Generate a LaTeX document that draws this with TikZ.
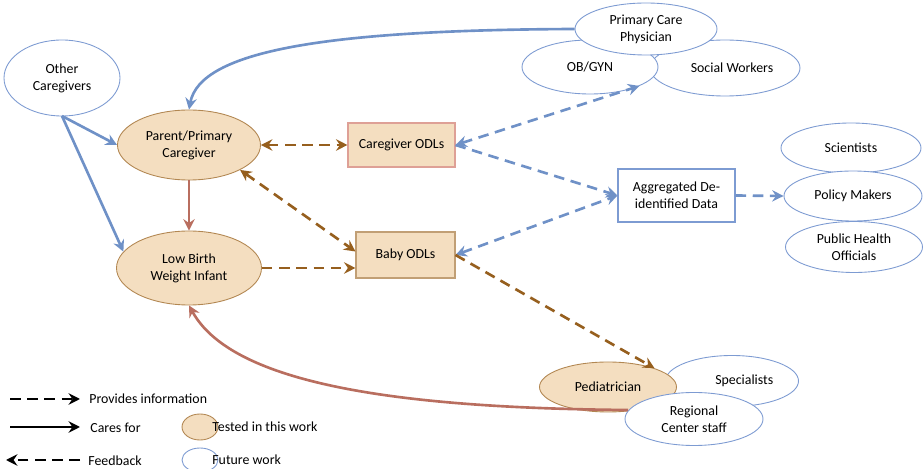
\documentclass[tikz,border=0pt]{standalone}
\usepackage{fontspec}
\setmainfont{Carlito}
\usetikzlibrary{arrows.meta,shapes.geometric}
\definecolor{bline}{RGB}{111,145,199}
\definecolor{bedge}{RGB}{125,155,210}
\definecolor{tanfill}{RGB}{244,222,192}
\definecolor{tanedge}{RGB}{178,135,82}
\definecolor{boxedge}{RGB}{222,160,150}
\definecolor{brdash}{RGB}{150,95,30}
\definecolor{redline}{RGB}{185,110,95}
\tikzset{
  every node/.style={font=\fontsize{7.9}{9.8}\selectfont, align=center, inner sep=0pt},
  future/.style={ellipse, draw=bedge, fill=white, line width=0.5pt},
  tested/.style={ellipse, draw=tanedge, fill=tanfill, line width=0.5pt},
  odlbox/.style={rectangle, draw=boxedge, fill=tanfill, line width=0.6pt},
  aggbox/.style={rectangle, draw=bedge, fill=white, line width=0.6pt},
  tip/.style={-{Stealth[length=6.5pt,width=6.5pt,inset=2.2pt]}},
  dtip/.style={{Stealth[length=6.5pt,width=6.5pt,inset=2.2pt]}-{Stealth[length=6.5pt,width=6.5pt,inset=2.2pt]}},
  dashline/.style={line width=1.5pt, dash pattern=on 6pt off 3.8pt},
  bsolid/.style={bline, line width=1.5pt, tip},
  rsolid/.style={redline, line width=1.5pt, tip},
  bdash/.style={bline, dashline, tip},
  brd/.style={brdash, dashline, tip},
}
\begin{document}
\begin{tikzpicture}[x=0.02cm,y=-0.02cm]
\useasboundingbox (0,0) rectangle (924,469);

% nodes
\node[future, minimum width=116*0.02cm, minimum height=76*0.02cm] (oc) at (62,78) {Other\\Caregivers};
\node[tested, minimum width=143*0.02cm, minimum height=70*0.02cm] (parent) at (189,145) {Parent/Primary\\Caregiver};
\node[tested, minimum width=145*0.02cm, minimum height=74*0.02cm] (lbw) at (189,268) {Low Birth\\Weight Infant};
\node[odlbox, minimum width=107*0.02cm, minimum height=44*0.02cm] (cg) at (401.5,145) {Caregiver ODLs};
\node[odlbox, draw=tanedge!80, minimum width=99*0.02cm, minimum height=46*0.02cm] (baby) at (405.5,255) {Baby ODLs};
\node[aggbox, minimum width=117*0.02cm, minimum height=53*0.02cm] (agg) at (676.5,195.5) {Aggregated De-\\identified Data};

\node[future, minimum width=140*0.02cm, minimum height=50*0.02cm] (sci) at (851,148) {Scientists};
\node[future, minimum width=138*0.02cm, minimum height=50*0.02cm] (pol) at (853,196) {Policy Makers};
\node[future, minimum width=137*0.02cm, minimum height=51*0.02cm] (pho) at (854,247) {Public Health\\Officials};

\node[future, minimum width=150*0.02cm, minimum height=56*0.02cm] (social) at (725,68) {\hspace*{8pt}Social Workers};
\node[future, minimum width=136*0.02cm, minimum height=54*0.02cm] (ob) at (590,67) {OB/GYN};
\node[future, minimum width=142*0.02cm, minimum height=52*0.02cm] (pcp) at (646,29) {Primary Care\\Physician};

\node[future, minimum width=133*0.02cm, minimum height=51*0.02cm] (spec) at (732,381) {\hspace*{14pt}Specialists};
\node[tested, minimum width=137*0.02cm, minimum height=50*0.02cm] (ped) at (608,387) {Pediatrician};
\node[future, minimum width=138*0.02cm, minimum height=53*0.02cm] (rcs) at (694,419) {Regional\\Center staff};

% connectors
\coordinate (ocb) at (62,116);
\draw[bsolid] (ocb) -- (parent.west);
\draw[bsolid] (ocb) -- (lbw.166);
\draw[bsolid] (pcp.west) .. controls (330,30) and (200,50) .. (parent.north);
\draw[rsolid] (parent.south) -- (lbw.north);
\draw[brd, dtip] (parent.east) -- (cg.west);
\draw[brd, dtip] (parent.-26) -- (baby.176);
\draw[brd] (lbw.east) -- (baby.west |- lbw.east);
\draw[bdash, dtip] (cg.east) -- (ob.-21);
\draw[bdash] (cg.east) -- (agg.west);
\draw[bdash, dtip] (baby.east) -- (agg.west);
\draw[bdash] (agg.east) -- (pol.west);
\draw[brd] (baby.east) -- (ped.22);
\coordinate (rs) at (628,410);
\draw[rsolid] (rs) .. controls (380,408) and (230,380) .. (lbw.south);

% legend
\coordinate (l1a) at (10,399); \coordinate (l1b) at (80,399);
\coordinate (l2a) at (10,427); \coordinate (l2b) at (80,427);
\coordinate (l3a) at (80,460); \coordinate (l3b) at (6,460);
\draw[black, dashline, tip] (l1a) -- (l1b);
\draw[black, line width=1.5pt, tip] (l2a) -- (l2b);
\draw[black, dashline, tip] (l3a) -- (l3b);
\node[anchor=west] (t1) at (89,399) {Provides information};
\node[anchor=west] (t2) at (90,428) {Cares for};
\node[anchor=west] (t3) at (88,461) {Feedback};
\node[tested, minimum width=36*0.02cm, minimum height=26*0.02cm] (lt) at (200,427) {};
\node[future, minimum width=36*0.02cm, minimum height=24*0.02cm] (lf) at (200,460) {};
\node[anchor=west] (t4) at (212,427) {Tested in this work};
\node[anchor=west] (t5) at (212,460) {Future work};
\end{tikzpicture}
\end{document}
